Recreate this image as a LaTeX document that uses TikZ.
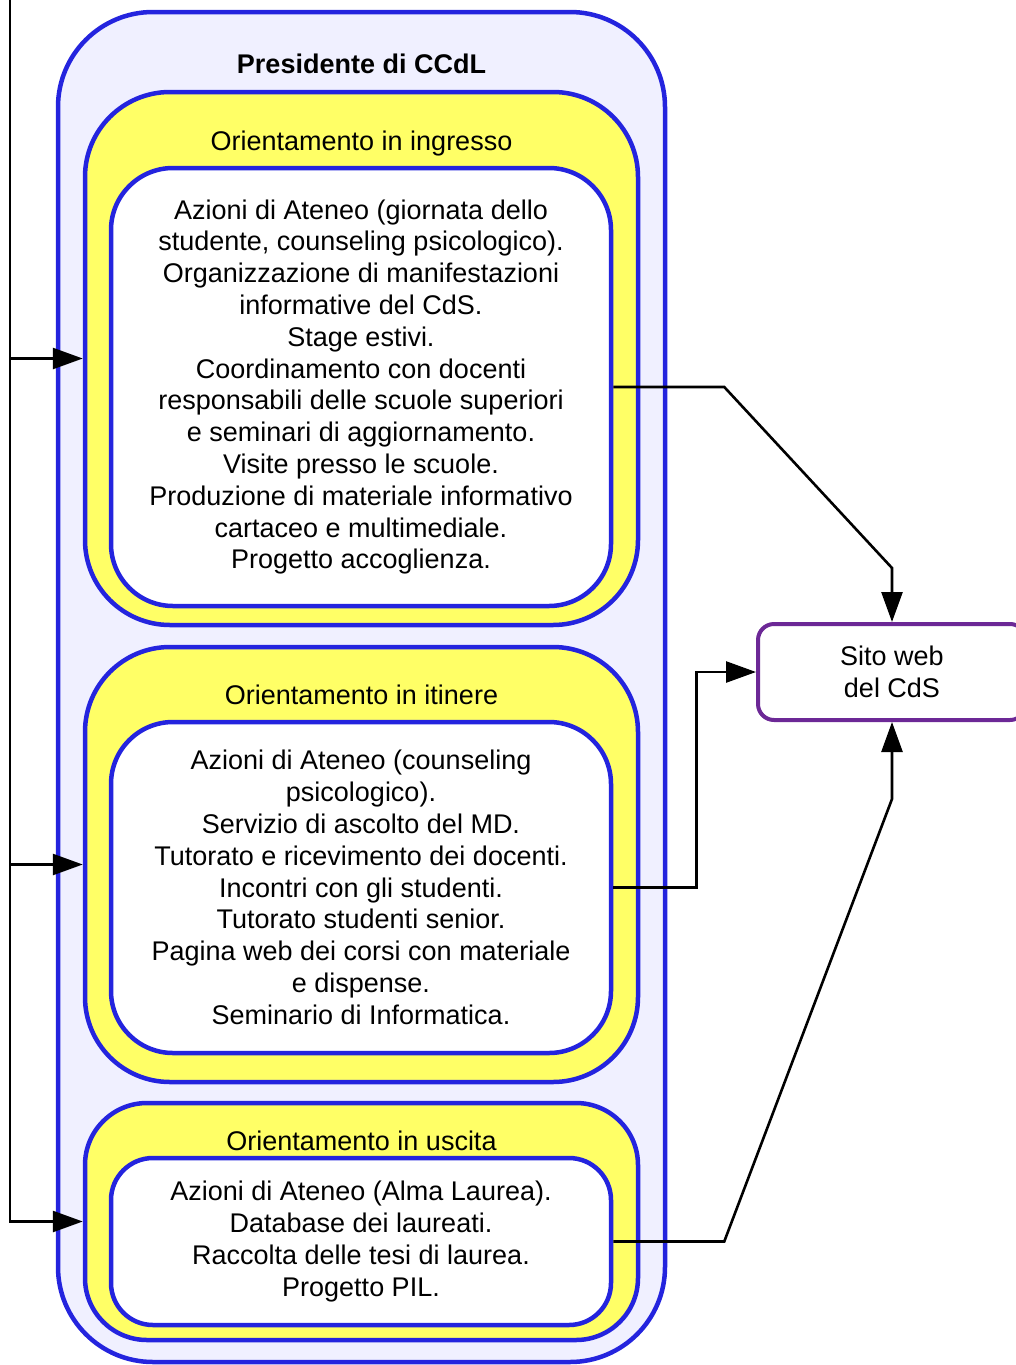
\documentclass[tikz,border=0pt]{standalone}
\usepackage{fontspec}
\setmainfont{Liberation Sans}
\usetikzlibrary{arrows.meta}
\definecolor{bblue}{RGB}{36,36,222}
\definecolor{lav}{RGB}{240,240,255}
\definecolor{yel}{RGB}{255,255,102}
\definecolor{purp}{RGB}{108,40,150}
\begin{document}
\begin{tikzpicture}[x=1pt,y=-1pt,
  txt/.style={font=\fontsize{27}{31.8}\selectfont, align=center, inner sep=0pt},
  outerbox/.style={draw=bblue, fill=lav, line width=4.5pt, rounded corners=95pt},
  yelbox/.style={draw=bblue, fill=yel, line width=4.5pt, rounded corners=85pt},
  whitebox/.style={draw=bblue, fill=white, line width=4.5pt, rounded corners=62pt, txt},
  sitebox/.style={draw=purp, fill=white, line width=4pt, rounded corners=16pt, txt},
  conn/.style={draw=black, line width=2.6pt, -{Triangle[length=30pt,width=21pt]}},
  plain/.style={draw=black, line width=2.6pt}
]
\useasboundingbox (0,0) rectangle (1016,1365);

% outer box
\node[outerbox, minimum width=607pt, minimum height=1350pt] (pres) at (361.5,687) {};
\node[txt, font=\fontsize{27}{31.8}\selectfont\bfseries] (prestitle) at (361.5,64) {Presidente di CCdL};

% yellow boxes
\node[yelbox, minimum width=553pt, minimum height=533pt] (y1) at (361.5,358.5) {};
\node[yelbox, minimum width=553pt, minimum height=435pt] (y2) at (361.5,864.5) {};
\node[yelbox, rounded corners=62pt, minimum width=553pt, minimum height=237pt] (y3) at (361.5,1221.5) {};
\node[txt] (t1) at (361.5,144) {Orientamento in ingresso};
\node[txt] (t2) at (361.5,695) {Orientamento in itinere};
\node[txt] (t3) at (361.5,1141) {Orientamento in uscita};

% white boxes
\node[whitebox, minimum width=500pt, minimum height=438pt] (w1) at (361,387) {%
Azioni di Ateneo (giornata dello\\
studente, counseling psicologico).\\
Organizzazione di manifestazioni\\
informative del CdS.\\
Stage estivi.\\
Coordinamento con docenti\\
responsabili delle scuole superiori\\
e seminari di aggiornamento.\\
Visite presso le scuole.\\
Produzione di materiale informativo\\
cartaceo e multimediale.\\
Progetto accoglienza.};
\node[whitebox, minimum width=500pt, minimum height=331pt] (w2) at (361,887.5) {%
Azioni di Ateneo (counseling\\
psicologico).\\
Servizio di ascolto del MD.\\
Tutorato e ricevimento dei docenti.\\
Incontri con gli studenti.\\
Tutorato studenti senior.\\
Pagina web dei corsi con materiale\\
e dispense.\\
Seminario di Informatica.};
\node[whitebox, rounded corners=42pt, minimum width=500pt, minimum height=167pt] (w3) at (361,1241.5) {%
Azioni di Ateneo (Alma Laurea).\\
Database dei laureati.\\
Raccolta delle tesi di laurea.\\
Progetto PIL.};

% site box
\node[sitebox, minimum width=268pt, minimum height=96pt] (sito) at (892,672) {Sito web\\del CdS};

% left feed line
\coordinate (top) at (10,0);
\draw[conn] (top) |- (y3.west);
\draw[conn] (top |- y1.west) -- (y1.west);
\draw[conn] (top |- y2.west) -- (y2.west);

% connectors to site
\draw[conn] (w1.east) -- ++(111,0) -- ([yshift=54pt]sito.north) -- (sito.north);
\draw[conn] (w2.east) -- ++(83,0) |- (sito.west);
\draw[conn] (w3.east) -- ++(111,0) -- ([yshift=-77pt]sito.south) -- (sito.south);
\end{tikzpicture}
\end{document}
